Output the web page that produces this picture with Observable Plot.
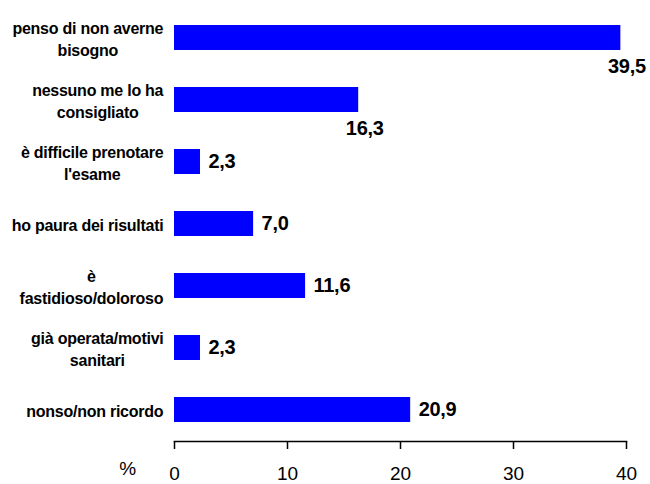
<!DOCTYPE html>
<html><head><meta charset="utf-8">
<script src="https://cdn.jsdelivr.net/npm/d3@7"></script>
<script src="https://cdn.jsdelivr.net/npm/@observablehq/plot@0.6"></script>
<style>
body{margin:0;background:#fff}
svg{font-family:"Liberation Sans",Arial,sans-serif}
</style>
</head><body><div id="chart"></div>
<script>
const categories = [
  "penso di non averne\nbisogno",
  "nessuno me lo ha\nconsigliato",
  "è difficile prenotare\nl'esame",
  "ho paura dei risultati",
  "è\nfastidioso/doloroso",
  "già operata/motivi\nsanitari",
  "nonso/non ricordo"
];
const values = [39.5, 16.3, 2.3, 7.0, 11.6, 2.3, 20.9];
const xTicks = [0, 10, 20, 30, 40];
const axisTitle = "%";

const data = categories.map((c, i) => ({category: c, value: values[i], idx: i}));
const fmt = v => v.toFixed(1).replace(".", ",");
// the first two value labels sit below their bars in the original
const below = d => d.idx < 2;

const chart = Plot.plot({
  width: 650, height: 484,
  marginLeft: 174, marginRight: 24, marginTop: 6, marginBottom: 43,
  style: {fontFamily: '"Liberation Sans", Arial, sans-serif', background: "white", color: "black"},
  x: {domain: [0, 40]},
  y: {domain: categories, paddingInner: 0.6, paddingOuter: 0.3},
  marks: [
    Plot.barX(data, {x: "value", y: "category", fill: "#0000ff"}),
    Plot.frame({anchor: "bottom", stroke: "black", strokeWidth: 1.5}),
    Plot.axisX(xTicks, {tickSize: 8, tickPadding: 17, fontSize: 19, strokeWidth: 1.5, label: null}),
    Plot.axisY({tickSize: 0, tickPadding: 11, fontSize: 16, fontWeight: "bold", lineHeight: 1.4, textAnchor: "end", label: null}),
    Plot.text(data.filter(d => !below(d)), {x: "value", y: "category", text: d => fmt(d.value), textAnchor: "start", dx: 8, fontSize: 20, fontWeight: "bold"}),
    Plot.text(data.filter(below), {x: "value", y: "category", text: d => fmt(d.value), textAnchor: "middle", dx: 6, dy: 29, fontSize: 20, fontWeight: "bold"}),
    Plot.text([axisTitle], {frameAnchor: "bottom-left", text: d => d, dx: -47, dy: 33, fontSize: 19, textAnchor: "middle"})
  ]
});
document.getElementById("chart").append(chart);

const g = chart.querySelector('g[aria-label="y-axis tick label"]');
if (g) {
  g.style.letterSpacing = "-0.25px";
  g.style.fontWeight = "bold";
  g.querySelectorAll("text").forEach(t => {
    const w = t.getBBox().width;
    t.setAttribute("text-anchor", "middle");
    const tr = t.getAttribute("transform") || "";
    t.setAttribute("transform", tr + ` translate(${-w / 2},0)`);
  });
}
chart.querySelectorAll('g[aria-label="text"]').forEach(t => t.style.letterSpacing = "-0.3px");
</script>
</body></html>
